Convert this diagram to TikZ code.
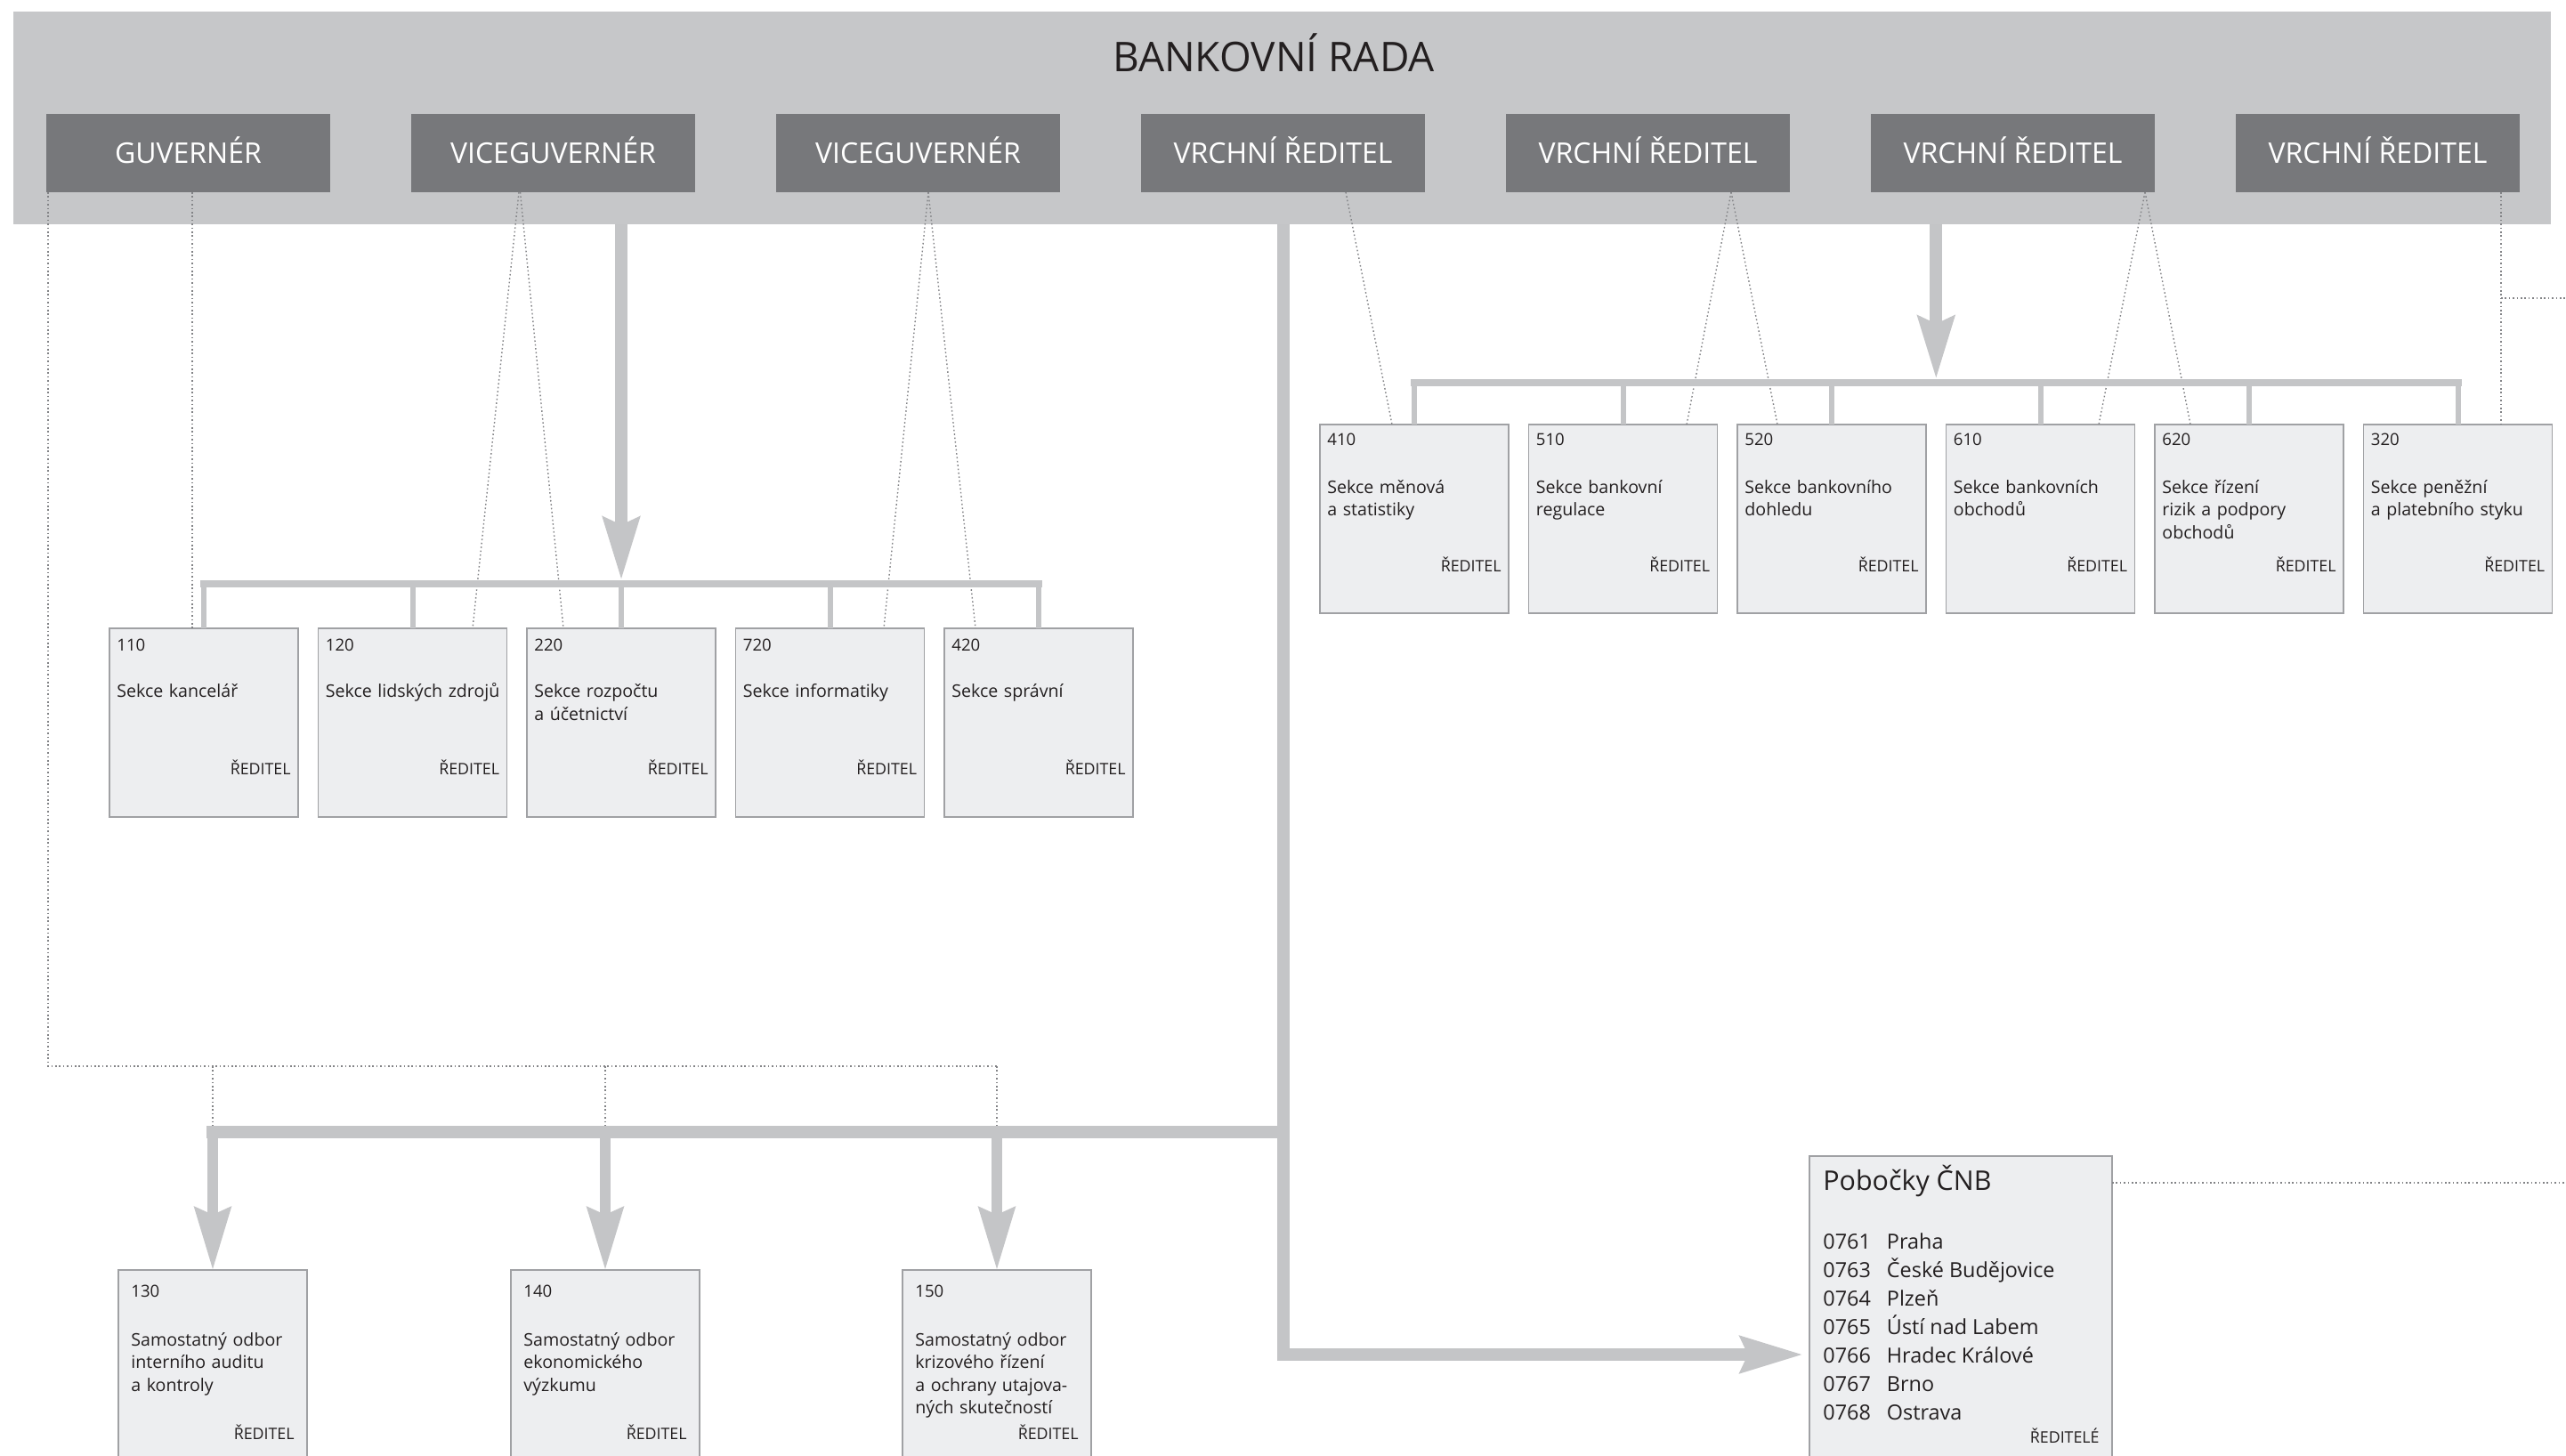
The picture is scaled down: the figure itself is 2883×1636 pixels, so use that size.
\documentclass[tikz,border=0pt]{standalone}
\usepackage{fontspec}
\setmainfont{Open Sans}
\usetikzlibrary{arrows.meta,calc}

\definecolor{pasmo}{RGB}{198,199,201}
\definecolor{tmava}{RGB}{119,120,123}
\definecolor{spoj}{RGB}{196,197,199}
\definecolor{vypln}{RGB}{237,238,240}
\definecolor{okraj}{RGB}{160,161,164}
\definecolor{tecka}{RGB}{130,131,134}
\definecolor{inkoust}{RGB}{35,31,32}

\begin{document}
\begin{tikzpicture}[x=0.5pt,y=0.5pt,yscale=-1,xscale=1,
  funkce/.style={fill=tmava,text=white,inner sep=0pt,outer sep=0pt,minimum width=159.5pt,minimum height=44pt,text height=11.4pt,text depth=0pt,font=\fontsize{16}{19}\selectfont},
  sekce/.style={fill=vypln,draw=okraj,line width=0.8pt,anchor=north west,inner sep=0pt,outer sep=0pt,minimum width=106pt,minimum height=106pt},
  cislo/.style={anchor=base west,inner sep=0pt,text=inkoust,font=\fontsize{9.3}{11}\selectfont},
  popis/.style={anchor=base west,inner sep=0pt,text=inkoust,align=left,text width=110pt,font=\fontsize{9.8}{12.75}\selectfont},
  reditel/.style={anchor=base east,inner sep=0pt,text=inkoust,font=\fontsize{8.9}{10}\selectfont},
  tlusta/.style={draw=spoj,line width=7pt},
  vetev/.style={draw=spoj,line width=4pt,line cap=rect},
  kolmo/.style={draw=spoj,line width=3pt},
  tecky/.style={draw=tecka,line width=0.7pt,dash pattern=on 0.8pt off 1.4pt},
  sipka/.style={-{Stealth[length=35pt,width=20pt,inset=4pt]}}]
\path[use as bounding box,clip] (0,0) rectangle (2883,1636);

%Shape: Rectangle [bankovni rada]
\node (rada) [fill=pasmo,anchor=north west,inner sep=0pt,outer sep=0pt,minimum width=1425.5pt,minimum height=119.5pt] at (15,13) {};
% Text Node
\node (nazev) [anchor=base,inner sep=0pt,text=inkoust,font=\fontsize{23}{27}\selectfont] at (1431,81) {BANKOVNÍ RADA};

%Shape: Rectangle [clenove rady]
\node (g) [funkce] at (211.5,172) {GUVERNÉR};
\node (v1) [funkce] at (621.5,172) {VICEGUVERNÉR};
\node (v2) [funkce] at (1031.5,172) {VICEGUVERNÉR};
\node (r1) [funkce] at (1441.5,172) {VRCHNÍ ŘEDITEL};
\node (r2) [funkce] at (1851.5,172) {VRCHNÍ ŘEDITEL};
\node (r3) [funkce] at (2261.5,172) {VRCHNÍ ŘEDITEL};
\node (r4) [funkce] at (2671.5,172) {VRCHNÍ ŘEDITEL};

%Shape: Rectangle [sekce vlevo]
\node (s110) [sekce] at (123,706) {};
\node (s120) [sekce] at (357.5,706) {};
\node (s220) [sekce] at (592,706) {};
\node (s720) [sekce] at (826.5,706) {};
\node (s420) [sekce] at (1061,706) {};

%Shape: Rectangle [sekce vpravo]
\node (s410) [sekce] at (1483,477) {};
\node (s510) [sekce] at (1717.5,477) {};
\node (s520) [sekce] at (1952,477) {};
\node (s610) [sekce] at (2186.5,477) {};
\node (s620) [sekce] at (2421,477) {};
\node (s320) [sekce] at (2655.5,477) {};

%Shape: Rectangle [samostatne odbory]
\node (s130) [sekce,minimum height=115pt] at (133,1427) {};
\node (s140) [sekce,minimum height=115pt] at (574,1427) {};
\node (s150) [sekce,minimum height=115pt] at (1014,1427) {};

%Shape: Rectangle [pobocky]
\node (pob) [sekce,minimum width=170pt,minimum height=180pt] at (2033,1299) {};

%Dotted Lines
\coordinate (ctg) at (54,1198);
\draw[tecky] ($(g.south west)+(2,0)$) -- (ctg) -- (ctg -| s150.north);
\draw[tecky] (ctg -| s130.north) -- ($(s130.north)+(0,-155)$);
\draw[tecky] (ctg -| s140.north) -- ($(s140.north)+(0,-155)$);
\draw[tecky] (ctg -| s150.north) -- ($(s150.north)+(0,-155)$);
\draw[tecky] ($(g.south)+(4.5,0)$) -- ($(s110.north)+(-13,0)$);
\draw[tecky] ($(v1.south)+(-38.5,0)$) -- ($(s120.north)+(67.5,0)$);
\draw[tecky] ($(v1.south)+(-37,0)$) -- ($(s220.north)+(-65,0)$);
\draw[tecky] ($(v2.south)+(11.5,0)$) -- ($(s720.north)+(60.5,0)$);
\draw[tecky] ($(v2.south)+(11.5,0)$) -- ($(s420.north)+(-71,0)$);
\draw[tecky] ($(r1.south)+(70.5,0)$) -- ($(s410.north)+(-25,0)$);
\draw[tecky] ($(r2.south)+(93.5,0)$) -- ($(s510.north)+(71.5,0)$);
\draw[tecky] ($(r2.south)+(93.5,0)$) -- ($(s520.north)+(-61,0)$);
\draw[tecky] ($(r3.south)+(148.5,0)$) -- ($(s610.north)+(65.5,0)$);
\draw[tecky] ($(r3.south)+(148.5,0)$) -- ($(s620.north)+(-66,0)$);
\coordinate (c320) at ($(r4.south)+(138.5,0)$);
\coordinate (vpravo1) at (2890,335);
\draw[tecky] (c320) -- (c320 |- s320.north);
\draw[tecky] (c320 |- vpravo1) -- (vpravo1);
\coordinate (vpravo2) at (2890,1329);
\draw[tecky] ($(pob.north east)+(0,30)$) -- (vpravo2);

%Straight Lines [vetev vlevo]
\draw[vetev] ([yshift=-25pt]s110.north) -- ([yshift=-25pt]s420.north);
\draw[kolmo] ([yshift=-25pt]s110.north) -- (s110.north);
\draw[kolmo] ([yshift=-25pt]s120.north) -- (s120.north);
\draw[kolmo] ([yshift=-25pt]s220.north) -- (s220.north);
\draw[kolmo] ([yshift=-25pt]s720.north) -- (s720.north);
\draw[kolmo] ([yshift=-25pt]s420.north) -- (s420.north);
\draw[tlusta,sipka] (rada.south -| s220.north) -- ([yshift=-27pt]s220.north);

%Straight Lines [vetev vpravo]
\draw[vetev] ([yshift=-23.5pt]s410.north) -- ([yshift=-23.5pt]s320.north);
\draw[kolmo] ([yshift=-23.5pt]s410.north) -- (s410.north);
\draw[kolmo] ([yshift=-23.5pt]s510.north) -- (s510.north);
\draw[kolmo] ([yshift=-23.5pt]s520.north) -- (s520.north);
\draw[kolmo] ([yshift=-23.5pt]s610.north) -- (s610.north);
\draw[kolmo] ([yshift=-23.5pt]s620.north) -- (s620.north);
\draw[kolmo] ([yshift=-23.5pt]s320.north) -- (s320.north);
\coordinate (stred) at ($(s520.north)!0.5!(s610.north)$);
\draw[tlusta,sipka] (rada.south -| stred) -- ([yshift=-25.5pt]stred);

%Straight Lines [hlavni vetev]
\coordinate (zlom) at (1441.5,1522);
\coordinate (odbocka) at (1441.5,1272);
\draw[tlusta,sipka,shorten >=3.5pt] (rada.south -| zlom) -- (zlom) -- (zlom -| pob.west);
\draw[tlusta,line cap=rect] (s130.north |- odbocka) -- (odbocka);
\draw[tlusta,sipka,line width=6pt] (s130.north |- odbocka) -- (s130.north);
\draw[tlusta,sipka,line width=6pt] (s140.north |- odbocka) -- (s140.north);
\draw[tlusta,sipka,line width=6pt] (s150.north |- odbocka) -- (s150.north);

% Text Node
\node (n110) [cislo] at ($(s110.north west)+(8,25)$) {110};
\node (t110) [popis] at ($(s110.north west)+(8,77.5)$) {Sekce kancelář};
\node (d110) [reditel] at ($(s110.north east)+(-8,164.5)$) {ŘEDITEL};
% Text Node
\node (n120) [cislo] at ($(s120.north west)+(8,25)$) {120};
\node (t120) [popis] at ($(s120.north west)+(8,77.5)$) {Sekce lidských zdrojů};
\node (d120) [reditel] at ($(s120.north east)+(-8,164.5)$) {ŘEDITEL};
% Text Node
\node (n220) [cislo] at ($(s220.north west)+(8,25)$) {220};
\node (t220) [popis] at ($(s220.north west)+(8,77.5)$) {Sekce rozpočtu\\a účetnictví};
\node (d220) [reditel] at ($(s220.north east)+(-8,164.5)$) {ŘEDITEL};
% Text Node
\node (n720) [cislo] at ($(s720.north west)+(8,25)$) {720};
\node (t720) [popis] at ($(s720.north west)+(8,77.5)$) {Sekce informatiky};
\node (d720) [reditel] at ($(s720.north east)+(-8,164.5)$) {ŘEDITEL};
% Text Node
\node (n420) [cislo] at ($(s420.north west)+(8,25)$) {420};
\node (t420) [popis] at ($(s420.north west)+(8,77.5)$) {Sekce správní};
\node (d420) [reditel] at ($(s420.north east)+(-8,164.5)$) {ŘEDITEL};

% Text Node
\node (n410) [cislo] at ($(s410.north west)+(8,24)$) {410};
\node (t410) [popis] at ($(s410.north west)+(8,77)$) {Sekce měnová\\a statistiky};
\node (d410) [reditel] at ($(s410.north east)+(-8,165.5)$) {ŘEDITEL};
% Text Node
\node (n510) [cislo] at ($(s510.north west)+(8,24)$) {510};
\node (t510) [popis] at ($(s510.north west)+(8,77)$) {Sekce bankovní\\regulace};
\node (d510) [reditel] at ($(s510.north east)+(-8,165.5)$) {ŘEDITEL};
% Text Node
\node (n520) [cislo] at ($(s520.north west)+(8,24)$) {520};
\node (t520) [popis] at ($(s520.north west)+(8,77)$) {Sekce bankovního\\dohledu};
\node (d520) [reditel] at ($(s520.north east)+(-8,165.5)$) {ŘEDITEL};
% Text Node
\node (n610) [cislo] at ($(s610.north west)+(8,24)$) {610};
\node (t610) [popis] at ($(s610.north west)+(8,77)$) {Sekce bankovních\\obchodů};
\node (d610) [reditel] at ($(s610.north east)+(-8,165.5)$) {ŘEDITEL};
% Text Node
\node (n620) [cislo] at ($(s620.north west)+(8,24)$) {620};
\node (t620) [popis] at ($(s620.north west)+(8,77)$) {Sekce řízení\\rizik a podpory\\obchodů};
\node (d620) [reditel] at ($(s620.north east)+(-8,165.5)$) {ŘEDITEL};
% Text Node
\node (n320) [cislo] at ($(s320.north west)+(8,24)$) {320};
\node (t320) [popis] at ($(s320.north west)+(8,77)$) {Sekce peněžní\\a platebního styku};
\node (d320) [reditel] at ($(s320.north east)+(-8,165.5)$) {ŘEDITEL};

% Text Node
\node (n130) [cislo] at ($(s130.north west)+(14,30)$) {130};
\node (t130) [popis] at ($(s130.north west)+(14,85)$) {Samostatný odbor\\interního auditu\\a kontroly};
\node (d130) [reditel] at ($(s130.north east)+(-14,190)$) {ŘEDITEL};
% Text Node
\node (n140) [cislo] at ($(s140.north west)+(14,30)$) {140};
\node (t140) [popis] at ($(s140.north west)+(14,85)$) {Samostatný odbor\\ekonomického\\výzkumu};
\node (d140) [reditel] at ($(s140.north east)+(-14,190)$) {ŘEDITEL};
% Text Node
\node (n150) [cislo] at ($(s150.north west)+(14,30)$) {150};
\node (t150) [popis] at ($(s150.north west)+(14,85)$) {Samostatný odbor\\krizového řízení\\a ochrany utajova-\\ných skutečností};
\node (d150) [reditel] at ($(s150.north east)+(-14,190)$) {ŘEDITEL};

% Text Node
\node (pobn) [anchor=base west,inner sep=0pt,text=inkoust,font=\fontsize{15.2}{18}\selectfont] at ($(pob.north west)+(15,38)$) {Pobočky ČNB};
\node (pobs) [anchor=base west,inner sep=0pt,text=inkoust,font=\fontsize{11.7}{16}\selectfont] at ($(pob.north west)+(15,104)$) {\begin{tabular}[t]{@{}l@{\hspace{9pt}}l@{}}0761&Praha\\0763&České Budějovice\\0764&Plzeň\\0765&Ústí nad Labem\\0766&Hradec Králové\\0767&Brno\\0768&Ostrava\end{tabular}};
\node (pobr) [reditel] at ($(pob.north east)+(-14,322)$) {ŘEDITELÉ};

\end{tikzpicture}
\end{document}
